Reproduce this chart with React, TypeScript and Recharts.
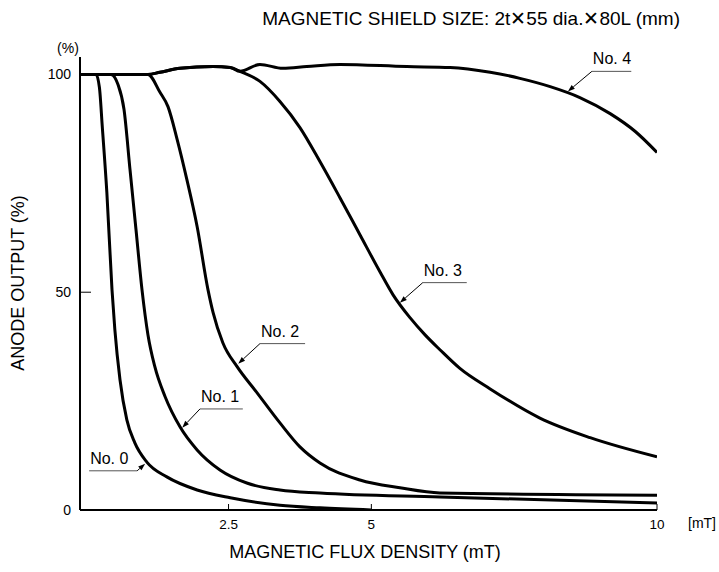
import React from "react";
import { LineChart, Line, XAxis, YAxis, ReferenceLine } from "recharts";

// x = magnetic flux density (mT), y = anode output (%)
const no0X = [-0.1, 0.18, 0.24, 0.29, 0.37, 0.46, 0.51, 0.6, 0.72, 0.86, 1.07, 1.42, 1.95, 2.53, 3.4, 4.1, 5.0];
const no0Y = [100, 100, 97, 88, 72.9, 50.6, 41.4, 29.9, 20.7, 15.4, 11, 7.6, 4.6, 2.8, 1.1, 0.5, 0];

const no1X = [-0.1, 0.44, 0.565, 0.67, 0.775, 0.88, 0.985, 1.09, 1.21, 1.39, 1.65, 1.95, 2.35, 2.82, 3.4, 4.1, 6.2, 10];
const no1Y = [100, 100, 97.7, 92, 78.2, 64.4, 50.6, 40.2, 32.9, 26, 19.1, 13.8, 9.2, 6.2, 4.6, 3.9, 3, 1.6];

const no2X = [-0.1, 1.09, 1.3, 1.44, 1.6, 1.77, 1.95, 2.14, 2.23, 2.4, 2.65, 3.0, 3.4, 3.75, 4.1, 4.8, 5.5, 6.2, 10];
const no2Y = [100, 100, 95.9, 92.6, 85.1, 75.9, 65.1, 50.6, 45.3, 38.4, 32.9, 26.9, 20, 14.5, 10.8, 6.9, 5.1, 3.9, 3.4];

const no3X = [-0.1, 1.09, 1.3, 1.65, 2.23, 2.53, 2.7, 3.05, 3.4, 3.75, 4.1, 4.45, 4.8, 5.15, 5.38, 5.68, 5.94, 6.2, 6.55, 7.08, 7.95, 8.83, 10];
const no3Y = [100, 100, 100.5, 101.4, 101.8, 101.6, 100.7, 98.4, 93.8, 87.8, 80, 71.7, 63.2, 54.7, 49.4, 44.1, 40.2, 36.8, 32.5, 27.8, 21.1, 16.6, 12.2];

const no4X = [-0.1, 1.09, 1.3, 1.65, 2.23, 2.53, 2.7, 3.05, 3.45, 3.87, 4.45, 5.62, 6.38, 7.08, 7.6, 8.13, 8.65, 9.18, 9.62, 10];
const no4Y = [100, 100, 100.5, 101.4, 101.8, 101.6, 100.7, 102.3, 101.4, 101.8, 102.3, 101.8, 101.6, 100.5, 99.1, 97.2, 94.7, 91.0, 86.9, 82.1];

const xTicks = [2.5, 5, 10];
const yTicks = [0, 50, 100];

// label callouts: text, underline (x1, x2, y), arrow tip (x, y)
const labelNames = ["No. 0", "No. 1", "No. 2", "No. 3", "No. 4"];
const lineX1 = [0.06, 2.0, 3.05, 5.9, 8.86];
const lineX2 = [0.9, 2.75, 3.84, 6.67, 9.55];
const lineY = [9, 23.2, 38.2, 52.2, 100.7];
const tipX = [1.04, 1.69, 2.67, 5.5, 8.44];
const tipY = [10.6, 18.9, 33.6, 47.6, 96.1];

const zip = (xs: number[], ys: number[]) => xs.map((x, i) => ({ x, y: ys[i] }));
const series = [zip(no0X, no0Y), zip(no1X, no1Y), zip(no2X, no2Y), zip(no3X, no3Y), zip(no4X, no4Y)];

const FONT = "'Liberation Sans', Arial, sans-serif";

const underline = (name: string) => (p: any) => (
  <g>
    <line x1={p.x1} y1={p.y1} x2={p.x2} y2={p.y2} stroke="#555" strokeWidth={1} />
    <text x={p.x1 + 1} y={p.y1 - 7} fontSize={16} fontFamily={FONT} fill="#000">
      {name}
    </text>
  </g>
);

const arrow = (p: any) => {
  const dx = p.x2 - p.x1;
  const dy = p.y2 - p.y1;
  const len = Math.hypot(dx, dy) || 1;
  const ux = dx / len;
  const uy = dy / len;
  const bx = p.x2 - ux * 7;
  const by = p.y2 - uy * 7;
  const nx = -uy * 2.5;
  const ny = ux * 2.5;
  return (
    <g>
      <line x1={p.x1} y1={p.y1} x2={bx} y2={by} stroke="#000" strokeWidth={1} />
      <polygon points={`${p.x2},${p.y2} ${bx + nx},${by + ny} ${bx - nx},${by - ny}`} fill="#000" />
    </g>
  );
};

const XTick = (props: any) => {
  const { x, y, payload } = props;
  return (
    <g>
      <line x1={x} y1={510} x2={x} y2={504} stroke="#000" strokeWidth={1} />
      <text x={x} y={y} dy="0.71em" textAnchor="middle" fontSize={13.5} fontFamily={FONT} fill="#000">
        {payload.value}
      </text>
    </g>
  );
};

const YTick = (props: any) => {
  const { x, y, payload } = props;
  return (
    <g>
      {payload.value !== 0 && <line x1={80} y1={y} x2={91} y2={y} stroke="#000" strokeWidth={1} />}
      <text x={x} y={y} dy="0.355em" textAnchor="end" fontSize={14} fontFamily={FONT} fill="#000">
        {payload.value}
      </text>
    </g>
  );
};

export default function App() {
  return (
    <div style={{ position: "absolute", left: 0, top: 0, width: 719, height: 572, background: "#fff" }}>
      <LineChart width={719} height={572} margin={{ top: 57, right: 62, bottom: 32, left: 20 }}>
        <XAxis
          type="number"
          dataKey="x"
          domain={[-0.1, 10]}
          ticks={xTicks}
          allowDataOverflow
          height={30}
          tickSize={0}
          tickMargin={9}
          tickLine={false}
          axisLine={{ stroke: "#000", strokeWidth: 2 }}
          tick={<XTick />}
        />
        <YAxis
          type="number"
          domain={[0, 104]}
          ticks={yTicks}
          allowDataOverflow
          width={60}
          tickSize={0}
          tickMargin={9}
          tickLine={false}
          axisLine={{ stroke: "#000", strokeWidth: 2 }}
          tick={<YTick />}
        />
        {series.map((d, i) => (
          <Line
            key={labelNames[i]}
            data={d}
            dataKey="y"
            type="monotone"
            stroke="#000"
            strokeWidth={3}
            dot={false}
            activeDot={false}
            isAnimationActive={false}
          />
        ))}
        {labelNames.map((name, i) => (
          <ReferenceLine
            key={`u-${name}`}
            segment={[{ x: lineX1[i], y: lineY[i] }, { x: lineX2[i], y: lineY[i] }]}
            ifOverflow="visible"
            shape={underline(name)}
          />
        ))}
        {labelNames.map((name, i) => (
          <ReferenceLine
            key={`a-${name}`}
            segment={[
              { x: i === 0 ? lineX2[i] : lineX1[i], y: lineY[i] },
              { x: tipX[i], y: tipY[i] },
            ]}
            ifOverflow="visible"
            shape={arrow}
          />
        ))}
      </LineChart>
      <svg
        width={719}
        height={572}
        style={{ position: "absolute", left: 0, top: 0, pointerEvents: "none" }}
        fontFamily={FONT}
      >
        <text x={680} y={25} textAnchor="end" fontSize={19} fill="#000">
          MAGNETIC SHIELD SIZE: 2t✕55 dia.✕80L (mm)
        </text>
        <text x={68} y={53} textAnchor="middle" fontSize={14} fill="#000">
          (%)
        </text>
        <text x={702} y={528} textAnchor="middle" fontSize={14} fill="#000">
          [mT]
        </text>
        <text x={365} y={558} textAnchor="middle" fontSize={18} fill="#000">
          MAGNETIC FLUX DENSITY (mT)
        </text>
        <text x={24} y={283} textAnchor="middle" fontSize={18} fill="#000" transform="rotate(-90 24 283)">
          ANODE OUTPUT (%)
        </text>
      </svg>
    </div>
  );
}
